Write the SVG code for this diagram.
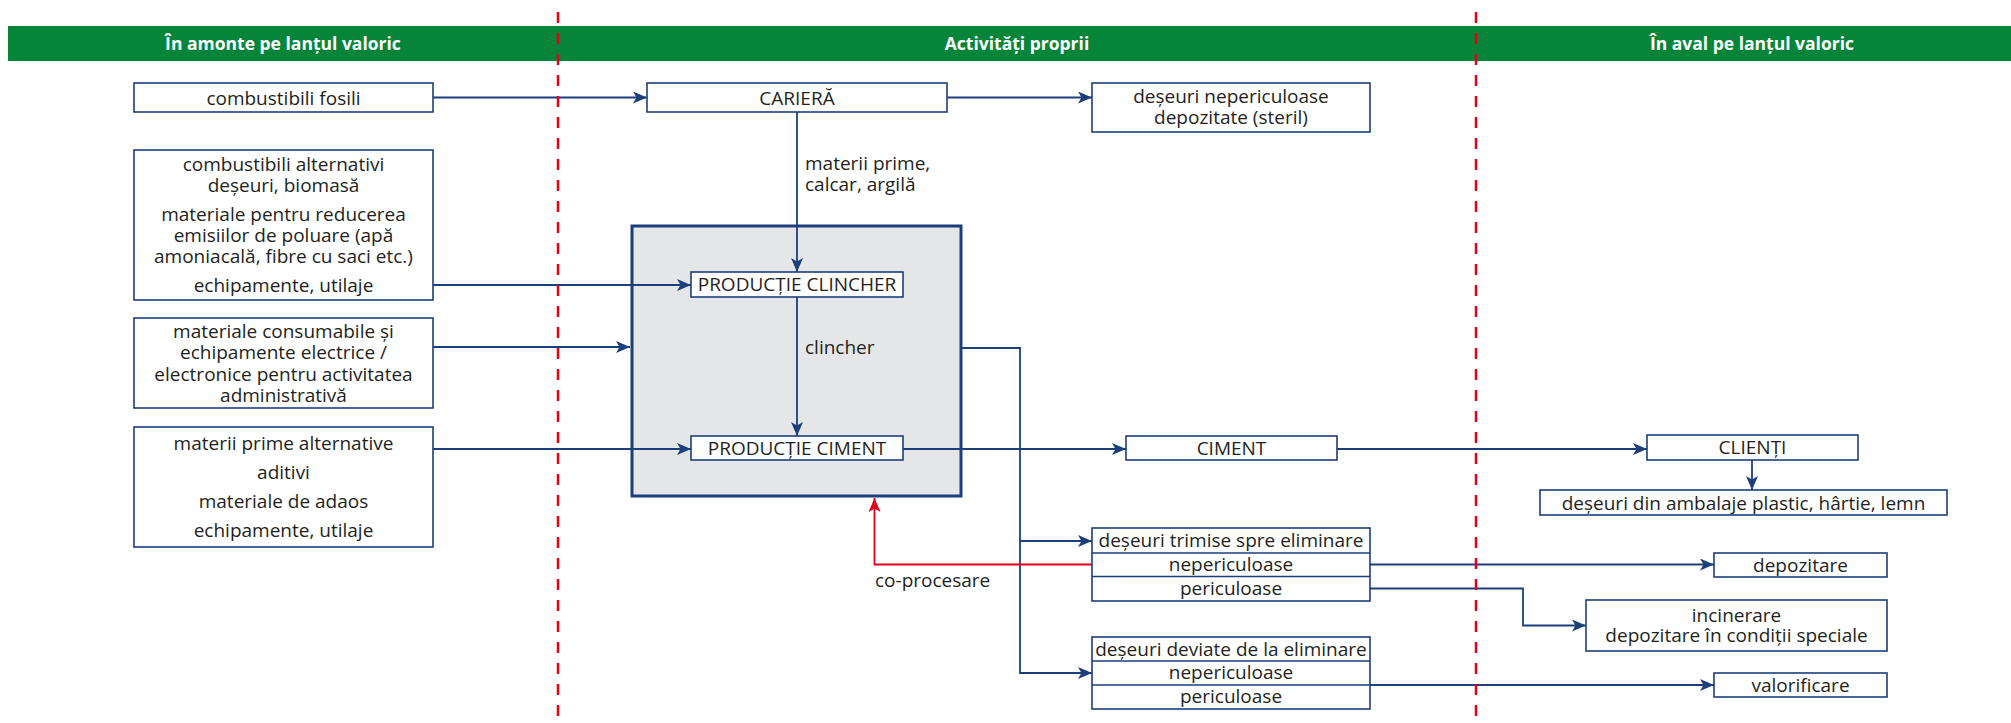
<svg xmlns="http://www.w3.org/2000/svg" width="2011" height="723" viewBox="0 0 2011 723">
<style>
.box{fill:#fff;stroke:#1c3f7c;stroke-width:1.6}
.t{font-family:"Open Sans","Liberation Sans",Arial,sans-serif;font-size:19px;fill:#231f20;text-anchor:middle}
.tl{font-family:"Open Sans","Liberation Sans",Arial,sans-serif;font-size:19px;fill:#231f20}
.h{font-family:"Open Sans","Liberation Sans",Arial,sans-serif;font-size:17.5px;font-weight:bold;fill:#fff;text-anchor:middle}
.c{fill:none;stroke:#1c3f7c;stroke-width:1.8}
.cr{fill:none;stroke:#e2001a;stroke-width:1.8}
.dash{stroke:#e2001a;stroke-width:2.5;stroke-dasharray:11 10}
</style>
<defs>
<marker id="a" markerUnits="userSpaceOnUse" markerWidth="16" markerHeight="14" refX="14" refY="6" orient="auto"><path d="M0,0 L14,6 L0,12 L3.5,6 Z" fill="#1c3f7c"/></marker>
<marker id="ar" markerUnits="userSpaceOnUse" markerWidth="16" markerHeight="14" refX="14" refY="6" orient="auto"><path d="M0,0 L14,6 L0,12 L3.5,6 Z" fill="#e2001a"/></marker>
</defs>
<rect width="2011" height="723" fill="#fff"/>
<g id="header">
<rect x="8" y="26" width="2003" height="35" fill="#06843a"/>
<text class="h" x="283" y="50">În amonte pe lanțul valoric</text>
<text class="h" x="1017" y="50">Activități proprii</text>
<text class="h" x="1752" y="50">În aval pe lanțul valoric</text>
</g>
<g id="gray-box"><rect x="632" y="226" width="329" height="270" fill="#e5e6e8" stroke="#1c3f7c" stroke-width="3"/></g>
<g id="connectors">
<path class="c" d="M433,97.5 H647" marker-end="url(#a)"/>
<path class="c" d="M947,97.5 H1092" marker-end="url(#a)"/>
<path class="c" d="M797,112 V272" marker-end="url(#a)"/>
<path class="c" d="M433,285 H691" marker-end="url(#a)"/>
<path class="c" d="M433,347 H630" marker-end="url(#a)"/>
<path class="c" d="M433,449 H691" marker-end="url(#a)"/>
<path class="c" d="M797,297 V436" marker-end="url(#a)"/>
<path class="c" d="M903,449 H1126" marker-end="url(#a)"/>
<path class="c" d="M1337,449 H1647" marker-end="url(#a)"/>
<path class="c" d="M1752,460 V490" marker-end="url(#a)"/>
<path class="c" d="M961,348 H1020 V673 H1092" marker-end="url(#a)"/>
<path class="c" d="M1020,541 H1092" marker-end="url(#a)"/>
<path class="c" d="M1370,564.5 H1714" marker-end="url(#a)"/>
<path class="c" d="M1370,588.5 H1523 V625.5 H1586" marker-end="url(#a)"/>
<path class="c" d="M1370,685 H1714" marker-end="url(#a)"/>
<path class="cr" d="M1092,564.5 H874.5 V498" marker-end="url(#ar)"/>
<text class="tl" x="805" y="170">materii prime,</text>
<text class="tl" x="805" y="191">calcar, argilă</text>
<text class="tl" x="805" y="354">clincher</text>
<text class="tl" x="875" y="587">co-procesare</text>
</g>
<g id="dividers">
<line class="dash" x1="558" y1="12" x2="558" y2="723"/>
<line class="dash" x1="1476" y1="12" x2="1476" y2="723"/>
</g>
<g id="n-fosili"><rect class="box" x="134" y="83" width="299" height="29"/><text class="t" x="283.5" y="105">combustibili fosili</text></g>
<g id="n-alternativi"><rect class="box" x="134" y="150" width="299" height="150"/>
<text class="t" x="283.5" y="171">combustibili alternativi</text>
<text class="t" x="283.5" y="192">deșeuri, biomasă</text>
<text class="t" x="283.5" y="221">materiale pentru reducerea</text>
<text class="t" x="283.5" y="242">emisiilor de poluare (apă</text>
<text class="t" x="283.5" y="263">amoniacală, fibre cu saci etc.)</text>
<text class="t" x="283.5" y="292">echipamente, utilaje</text></g>
<g id="n-consumabile"><rect class="box" x="134" y="318" width="299" height="90"/>
<text class="t" x="283.5" y="338">materiale consumabile și</text>
<text class="t" x="283.5" y="359">echipamente electrice /</text>
<text class="t" x="283.5" y="381">electronice pentru activitatea</text>
<text class="t" x="283.5" y="402">administrativă</text></g>
<g id="n-materii"><rect class="box" x="134" y="427" width="299" height="120"/>
<text class="t" x="283.5" y="450">materii prime alternative</text>
<text class="t" x="283.5" y="479">aditivi</text>
<text class="t" x="283.5" y="508">materiale de adaos</text>
<text class="t" x="283.5" y="537">echipamente, utilaje</text></g>
<g id="n-cariera"><rect class="box" x="647" y="83" width="300" height="29"/><text class="t" x="797" y="105">CARIERĂ</text></g>
<g id="n-steril"><rect class="box" x="1092" y="83" width="278" height="49"/><text class="t" x="1231" y="103">deșeuri nepericuloase</text><text class="t" x="1231" y="124">depozitate (steril)</text></g>
<g id="n-clincher"><rect class="box" x="691" y="272" width="212" height="25"/><text class="t" x="797" y="291">PRODUCȚIE CLINCHER</text></g>
<g id="n-prodciment"><rect class="box" x="691" y="436" width="212" height="24"/><text class="t" x="797" y="455">PRODUCȚIE CIMENT</text></g>
<g id="n-ciment"><rect class="box" x="1126" y="436" width="211" height="24"/><text class="t" x="1231.5" y="455">CIMENT</text></g>
<g id="n-clienti"><rect class="box" x="1647" y="435" width="211" height="25"/><text class="t" x="1752.5" y="454">CLIENȚI</text></g>
<g id="n-ambalaje"><rect class="box" x="1540" y="490" width="407" height="25"/><text class="t" x="1743.5" y="510">deșeuri din ambalaje plastic, hârtie, lemn</text></g>
<g id="n-trimise"><rect class="box" x="1092" y="528" width="278" height="73"/>
<line x1="1092" y1="553" x2="1370" y2="553" stroke="#1c3f7c" stroke-width="1.6"/>
<line x1="1092" y1="576.5" x2="1370" y2="576.5" stroke="#1c3f7c" stroke-width="1.6"/>
<text class="t" x="1231" y="547">deșeuri trimise spre eliminare</text>
<text class="t" x="1231" y="571">nepericuloase</text>
<text class="t" x="1231" y="595">periculoase</text></g>
<g id="n-deviate"><rect class="box" x="1092" y="637" width="278" height="72"/>
<line x1="1092" y1="661" x2="1370" y2="661" stroke="#1c3f7c" stroke-width="1.6"/>
<line x1="1092" y1="685" x2="1370" y2="685" stroke="#1c3f7c" stroke-width="1.6"/>
<text class="t" x="1231" y="656">deșeuri deviate de la eliminare</text>
<text class="t" x="1231" y="679">nepericuloase</text>
<text class="t" x="1231" y="703">periculoase</text></g>
<g id="n-depozitare"><rect class="box" x="1714" y="553" width="173" height="24"/><text class="t" x="1800.5" y="572">depozitare</text></g>
<g id="n-incinerare"><rect class="box" x="1586" y="600" width="301" height="51"/><text class="t" x="1736.5" y="622">incinerare</text><text class="t" x="1736.5" y="642">depozitare în condiții speciale</text></g>
<g id="n-valorificare"><rect class="box" x="1714" y="673" width="173" height="24"/><text class="t" x="1800.5" y="692">valorificare</text></g>
</svg>
